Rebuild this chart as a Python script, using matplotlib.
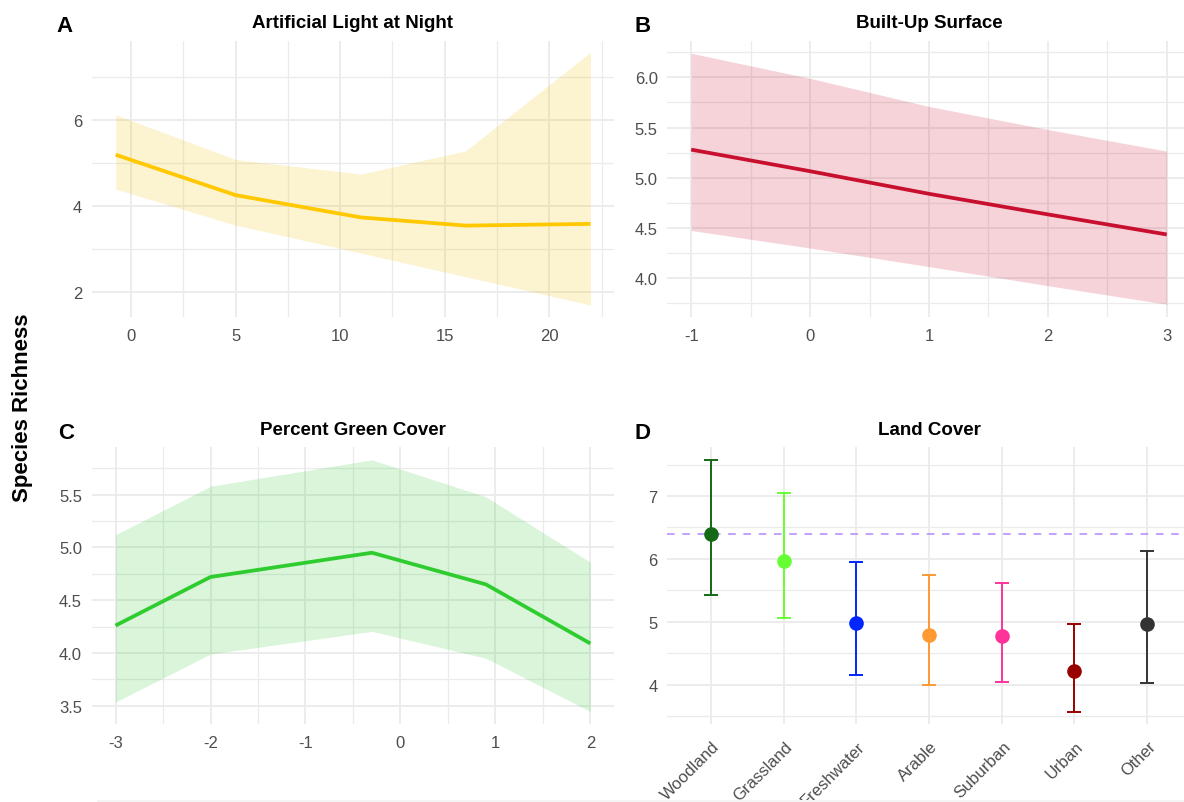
import numpy as np
import matplotlib
matplotlib.use('Agg')
import matplotlib.pyplot as plt
import matplotlib.transforms as mtransforms
from matplotlib.patches import Rectangle

plt.rcParams['font.family'] = ['Liberation Sans', 'DejaVu Sans']
plt.rcParams['axes.unicode_minus'] = False

#################################################################################
# data
#################################################################################
# A : Artificial Light at Night
alan_x     = [-0.73, 5.0, 11.0, 16.0, 21.97]
alan_fit   = [5.19, 4.25, 3.73, 3.54, 3.58]
alan_upper = [6.12, 5.08, 4.74, 5.28, 7.58]
alan_lower = [4.39, 3.55, 2.90, 2.35, 1.69]

# B : Built-Up Surface
built_x     = [-1, 0, 1, 2, 3]
built_fit   = [5.28, 5.065, 4.84, 4.635, 4.435]
built_upper = [6.24, 5.99, 5.71, 5.48, 5.265]
built_lower = [4.475, 4.30, 4.115, 3.925, 3.74]

# C : Percent Green Cover
green_x     = [-3.0, -2.0, -0.3, 0.9, 2.0]
green_fit   = [4.26, 4.72, 4.95, 4.65, 4.09]
green_upper = [5.12, 5.58, 5.83, 5.48, 4.86]
green_lower = [3.535, 3.99, 4.205, 3.95, 3.445]

# D : Land Cover
land_names = ['Woodland', 'Grassland', 'Freshwater', 'Arable', 'Suburban', 'Urban', 'Other']
land_est   = [6.40, 5.96, 4.98, 4.79, 4.77, 4.21, 4.96]
land_upper = [7.57, 7.05, 5.95, 5.75, 5.62, 4.96, 6.13]
land_lower = [5.42, 5.06, 4.16, 4.00, 4.04, 3.57, 4.02]
land_cols  = ['#156915', '#66FF33', '#0026FF', '#FF9933', '#FF3399', '#990000', '#333333']
land_ref   = 6.40

W, H = 1184, 803
GRID = '#EBEBEB'
TXT  = '#4D4D4D'


def add_ax(fig, l, t, r, b):
	# axes from pixel box (left, top, right, bottom)
	return fig.add_axes([l / W, 1 - b / H, (r - l) / W, (b - t) / H])


def style(ax, xmaj, xmin, ymaj, ymin, xlim, ylim, xfmt='%g', yfmt='%g'):
	ax.set_xlim(xlim)
	ax.set_ylim(ylim)
	ax.set_xticks(xmaj)
	ax.set_xticks(xmin, minor=True)
	ax.set_yticks(ymaj)
	ax.set_yticks(ymin, minor=True)
	ax.set_xticklabels([xfmt % v for v in xmaj])
	ax.set_yticklabels([yfmt % v for v in ymaj])
	for s in ax.spines.values():
		s.set_visible(False)
	ax.tick_params(which='both', length=0, labelsize=12, labelcolor=TXT)
	ax.tick_params(axis='x', pad=8)
	ax.tick_params(axis='y', pad=7)
	ax.grid(True, which='major', color=GRID, lw=1.3, zorder=0)
	ax.grid(True, which='minor', color=GRID, lw=0.9, zorder=0)
	ax.set_axisbelow(True)


def ftext(fig, x, y, s, **kw):
	fig.text(x / W, 1 - y / H, s, **kw)


fig = plt.figure(figsize=(W / 100, H / 100), dpi=100)

###------------------------------------------ A
ax = add_ax(fig, 91.8, 41.7, 614.1, 318.3)
ax.fill_between(alan_x, alan_lower, alan_upper, color='#F0C419', alpha=0.2, lw=0, zorder=2)
ax.plot(alan_x, alan_fit, color='#FFC800', lw=2.7, zorder=3, solid_capstyle='butt')
style(ax, [0, 5, 10, 15, 20], [2.5, 7.5, 12.5, 17.5, 22.5], [2, 4, 6], [3, 5, 7],
      (-1.874, 23.10), (1.404, 7.847))

###------------------------------------------ B
ax = add_ax(fig, 667.4, 41.7, 1190.5, 318.3)
ax.fill_between(built_x, built_lower, built_upper, color='#C8102E', alpha=0.18, lw=0, zorder=2)
ax.plot(built_x, built_fit, color='#C8102E', lw=2.7, zorder=3, solid_capstyle='butt')
style(ax, [-1, 0, 1, 2, 3], [-0.5, 0.5, 1.5, 2.5], [4.0, 4.5, 5.0, 5.5, 6.0],
      [3.75, 4.25, 4.75, 5.25, 5.75, 6.25], (-1.2, 3.2), (3.61, 6.365), yfmt='%.1f')

###------------------------------------------ C
ax = add_ax(fig, 91.8, 448.3, 614.1, 725)
ax.fill_between(green_x, green_lower, green_upper, color='#33CC33', alpha=0.18, lw=0, zorder=2)
ax.plot(green_x, green_fit, color='#2ECC2E', lw=2.7, zorder=3, solid_capstyle='butt')
style(ax, [-3, -2, -1, 0, 1, 2], [-2.5, -1.5, -0.5, 0.5, 1.5], [3.5, 4.0, 4.5, 5.0, 5.5],
      [3.75, 4.25, 4.75, 5.25, 5.75], (-3.25, 2.25), (3.327, 5.949), yfmt='%.1f')

###------------------------------------------ D
ax = add_ax(fig, 667.4, 448.3, 1190.5, 725)
pos = np.arange(1, len(land_names) + 1)
ax.axhline(land_ref, color='#B388FF', lw=1.1, ls=(0, (5, 5)), zorder=2)
for i in range(len(land_names)):
	ax.errorbar(pos[i], land_est[i],
	            yerr=[[land_est[i] - land_lower[i]], [land_upper[i] - land_est[i]]],
	            fmt='o', color=land_cols[i], ms=9.5, elinewidth=1.4,
	            capsize=5, capthick=1.4, zorder=3)
style(ax, list(pos), [], [4, 5, 6, 7], [3.5, 4.5, 5.5, 6.5, 7.5], (0.4, 7.6), (3.375, 7.774))
ax.grid(False, which='minor', axis='x')
ax.set_xticklabels(land_names, rotation=45, ha='right', va='top', rotation_mode='anchor')
off = mtransforms.ScaledTranslation(1 / 100, -3 / 100, fig.dpi_scale_trans)
for lab in ax.get_xticklabels():
	lab.set_transform(lab.get_transform() + off)

###------------------------------------------ titles / letters
tkw = dict(fontsize=13.5, fontweight='bold', ha='center', va='baseline', color='black')
ftext(fig, 353, 27.5, 'Artificial Light at Night', **tkw)
ftext(fig, 929, 27.5, 'Built-Up Surface', **tkw)
ftext(fig, 353, 435, 'Percent Green Cover', **tkw)
ftext(fig, 929, 435, 'Land Cover', **tkw)

lkw = dict(fontsize=16, fontweight='bold', ha='left', va='baseline', color='black')
ftext(fig, 56, 32.5, 'A', **lkw)
ftext(fig, 634, 32.5, 'B', **lkw)
ftext(fig, 58, 439, 'C', **lkw)
ftext(fig, 634, 439, 'D', **lkw)

ftext(fig, 23, 408, 'Species Richness', fontsize=16, fontweight='bold',
      rotation=90, ha='center', va='center', color='black')

# faint strip along the bottom edge
fig.patches.append(Rectangle((97 / W, 0), 1 - 97 / W, 2 / H, transform=fig.transFigure,
                             facecolor='#F4F4F4', edgecolor='none'))

fig.savefig('out.png', dpi=100)
